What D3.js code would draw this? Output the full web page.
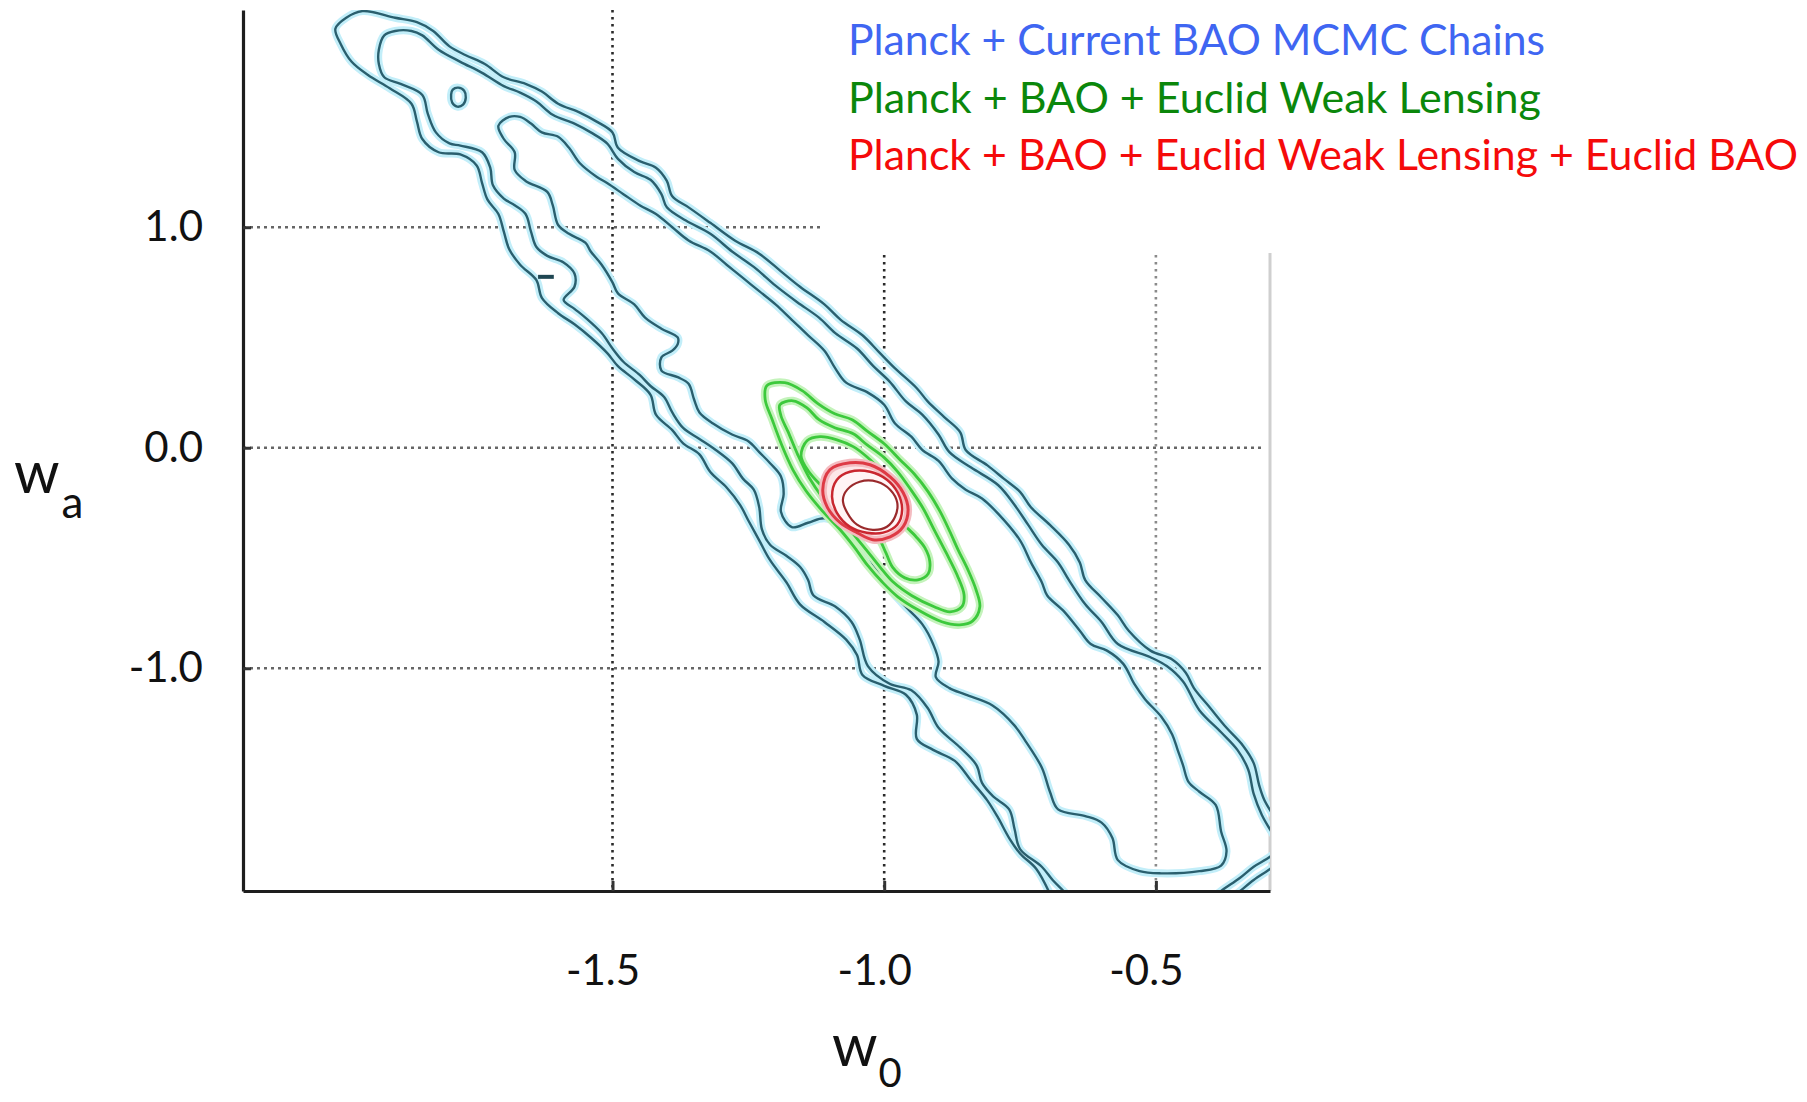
<!DOCTYPE html>
<html>
<head>
<meta charset="utf-8">
<script src="https://cdn.jsdelivr.net/npm/d3@7"></script>
<style>
  html, body { margin: 0; padding: 0; background: #fff; }
  svg { display: block; }
  text { font-family: Lato, "Open Sans", sans-serif; }
</style>
</head>
<body>
<script>
var width = 1807
var height = 1102

// axes
var xDomain = [-2.18, -0.29]
var yDomain = [-2.01, 1.985]
var xTicks = [-1.5, -1.0, -0.5]
var yTicks = [1.0, 0.0, -1.0]
var xTickLabels = ['-1.5', '-1.0', '-0.5']
var yTickLabels = ['1.0', '0.0', '-1.0']

var legendLabels = [
    'Planck + Current BAO MCMC Chains',
    'Planck + BAO + Euclid Weak Lensing',
    'Planck + BAO + Euclid Weak Lensing + Euclid BAO'
]
var legendColors = ['#3f66f2', '#0b870b', '#f50a0a']

// Planck + current BAO, outer contour (clipped by the frame, so two pieces)
var blueOuter = [
    [-0.69,-2.05],[-0.72,-1.91],[-0.75,-1.84],[-0.77,-1.77],[-0.79,-1.68],[-0.81,-1.60],[-0.84,-1.51],
    [-0.87,-1.42],[-0.91,-1.37],[-0.94,-1.32],[-0.94,-1.21],[-0.96,-1.12],[-1.00,-1.08],[-1.04,-1.03],
    [-1.05,-0.94],[-1.07,-0.87],[-1.11,-0.79],[-1.155,-0.71],[-1.18,-0.61],[-1.21,-0.51],[-1.23,-0.42],
    [-1.25,-0.33],[-1.265,-0.26],[-1.29,-0.18],[-1.32,-0.11],[-1.34,-0.03],[-1.37,0.02],[-1.39,0.08],
    [-1.42,0.15],[-1.43,0.24],[-1.46,0.31],[-1.49,0.37],[-1.51,0.43],[-1.54,0.50],[-1.57,0.56],
    [-1.60,0.61],[-1.63,0.68],[-1.64,0.76],[-1.67,0.83],[-1.69,0.90],[-1.70,0.98],[-1.71,1.06],
    [-1.73,1.125],[-1.74,1.20],[-1.75,1.28],[-1.78,1.33],[-1.82,1.34],[-1.85,1.40],[-1.86,1.48],
    [-1.87,1.56],[-1.91,1.63],[-1.95,1.69],[-1.98,1.75],[-2.00,1.83],[-2.01,1.90],
    [-1.99,1.95],[-1.96,1.98],[-1.90,1.95],[-1.86,1.93],[-1.83,1.89],[-1.80,1.82],[-1.77,1.78],
    [-1.735,1.74],[-1.70,1.68],[-1.66,1.65],[-1.63,1.615],[-1.60,1.56],[-1.56,1.52],[-1.53,1.48],
    [-1.50,1.43],[-1.49,1.36],[-1.45,1.30],[-1.42,1.27],[-1.40,1.21],[-1.39,1.14],[-1.36,1.09],
    [-1.32,1.02],[-1.275,0.94],[-1.23,0.88],[-1.19,0.80],[-1.155,0.73],[-1.11,0.65],[-1.08,0.58],
    [-1.04,0.51],[-1.01,0.435],[-0.98,0.36],[-0.94,0.27],[-0.92,0.21],[-0.89,0.14],[-0.86,0.07],
    [-0.85,-0.01],[-0.81,-0.08],[-0.78,-0.14],[-0.75,-0.20],[-0.73,-0.27],[-0.695,-0.35],[-0.66,-0.44],
    [-0.64,-0.52],[-0.63,-0.60],[-0.60,-0.68],[-0.57,-0.76],[-0.55,-0.83],[-0.51,-0.92],[-0.47,-0.96],
    [-0.445,-1.02],[-0.43,-1.09],[-0.40,-1.18],[-0.37,-1.27],[-0.34,-1.35],[-0.32,-1.43],[-0.31,-1.53],
    [-0.30,-1.60],[-0.28,-1.68]
]
var blueOuterCorner = [[-0.27,-1.87],[-0.29,-1.91],[-0.32,-1.96],[-0.345,-2.01],[-0.37,-2.06]]

// middle contour
var blueMiddle = [
    [-0.65,-2.06],[-0.67,-2.01],[-0.69,-1.96],[-0.71,-1.90],[-0.75,-1.82],[-0.76,-1.73],[-0.77,-1.64],
    [-0.80,-1.58],[-0.82,-1.52],[-0.83,-1.44],[-0.86,-1.36],[-0.90,-1.27],[-0.92,-1.18],[-0.95,-1.10],
    [-0.99,-1.07],[-1.03,-0.99],[-1.045,-0.87],[-1.06,-0.79],[-1.09,-0.72],[-1.13,-0.67],[-1.14,-0.60],
    [-1.155,-0.54],[-1.18,-0.49],[-1.21,-0.44],[-1.225,-0.37],[-1.23,-0.27],[-1.24,-0.19],[-1.26,-0.14],
    [-1.28,-0.07],[-1.31,-0.01],[-1.34,0.04],[-1.37,0.09],[-1.39,0.16],[-1.405,0.23],[-1.43,0.28],
    [-1.45,0.33],[-1.48,0.39],[-1.50,0.45],[-1.52,0.52],[-1.55,0.59],[-1.57,0.63],[-1.59,0.67],
    [-1.57,0.73],[-1.57,0.79],[-1.59,0.84],[-1.62,0.87],[-1.64,0.91],[-1.65,0.98],[-1.66,1.06],
    [-1.68,1.10],[-1.70,1.13],[-1.72,1.19],[-1.725,1.27],[-1.74,1.34],[-1.78,1.37],[-1.80,1.38],
    [-1.825,1.43],[-1.84,1.515],[-1.85,1.60],[-1.89,1.65],[-1.92,1.68],[-1.93,1.74],[-1.93,1.805],
    [-1.92,1.87],[-1.90,1.89],
    [-1.87,1.89],[-1.85,1.87],[-1.82,1.805],[-1.78,1.75],[-1.74,1.70],[-1.70,1.64],[-1.67,1.61],
    [-1.64,1.57],[-1.61,1.51],[-1.57,1.47],[-1.54,1.43],[-1.51,1.38],[-1.49,1.31],[-1.46,1.25],
    [-1.43,1.215],[-1.41,1.15],[-1.40,1.09],[-1.365,1.03],[-1.32,0.97],[-1.28,0.89],[-1.24,0.82],
    [-1.20,0.735],[-1.16,0.66],[-1.12,0.59],[-1.09,0.52],[-1.05,0.45],[-1.02,0.37],[-0.99,0.30],
    [-0.96,0.21],[-0.93,0.15],[-0.90,0.06],[-0.88,-0.02],[-0.84,-0.09],[-0.79,-0.17],[-0.76,-0.26],
    [-0.735,-0.35],[-0.71,-0.44],[-0.68,-0.52],[-0.66,-0.60],[-0.63,-0.71],[-0.60,-0.79],[-0.57,-0.89],
    [-0.51,-0.95],[-0.48,-0.99],[-0.45,-1.06],[-0.42,-1.19],[-0.38,-1.29],[-0.35,-1.37],[-0.33,-1.46],
    [-0.32,-1.57],[-0.305,-1.665],[-0.28,-1.77]
]
var blueMiddleCorner = [[-0.27,-1.81],[-0.29,-1.855],[-0.32,-1.90],[-0.345,-1.95],[-0.38,-2.01],[-0.40,-2.05]]

// inner contour (closed) plus a small island and a stub
var blueInner = [
    [-1.69,1.50],[-1.71,1.46],[-1.70,1.40],[-1.68,1.34],[-1.68,1.26],[-1.66,1.21],[-1.62,1.16],
    [-1.61,1.10],[-1.60,1.01],[-1.58,0.97],[-1.55,0.93],[-1.54,0.89],[-1.52,0.83],[-1.50,0.75],
    [-1.49,0.70],[-1.46,0.65],[-1.44,0.59],[-1.41,0.54],[-1.38,0.50],[-1.38,0.47],[-1.39,0.44],
    [-1.41,0.41],[-1.41,0.35],[-1.38,0.32],[-1.36,0.29],[-1.35,0.22],[-1.34,0.16],[-1.315,0.11],
    [-1.28,0.06],[-1.25,0.03],[-1.23,-0.02],[-1.21,-0.07],[-1.19,-0.13],[-1.185,-0.21],[-1.19,-0.29],
    [-1.17,-0.36],[-1.14,-0.34],[-1.11,-0.32],[-1.07,-0.36],[-1.04,-0.44],[-1.02,-0.53],[-1.00,-0.61],
    [-0.965,-0.71],[-0.93,-0.80],[-0.91,-0.89],[-0.90,-0.97],[-0.905,-1.04],[-0.88,-1.09],[-0.85,-1.12],
    [-0.80,-1.17],[-0.76,-1.26],[-0.74,-1.33],[-0.71,-1.45],[-0.695,-1.56],[-0.68,-1.64],[-0.63,-1.67],
    [-0.60,-1.70],[-0.58,-1.77],[-0.57,-1.87],[-0.53,-1.92],[-0.49,-1.93],[-0.42,-1.92],[-0.38,-1.895],
    [-0.37,-1.83],[-0.38,-1.74],[-0.39,-1.62],[-0.42,-1.56],[-0.44,-1.515],[-0.45,-1.44],[-0.46,-1.37],
    [-0.47,-1.30],[-0.49,-1.22],[-0.52,-1.14],[-0.54,-1.07],[-0.56,-0.98],[-0.59,-0.92],[-0.62,-0.89],
    [-0.64,-0.83],[-0.67,-0.74],[-0.70,-0.67],[-0.71,-0.61],[-0.73,-0.52],[-0.75,-0.42],[-0.79,-0.30],
    [-0.82,-0.23],[-0.85,-0.19],[-0.875,-0.14],[-0.90,-0.06],[-0.93,-0.01],[-0.95,0.05],[-0.98,0.11],
    [-1.00,0.195],[-1.03,0.25],[-1.07,0.295],[-1.09,0.36],[-1.11,0.44],[-1.14,0.51],[-1.17,0.58],
    [-1.20,0.65],[-1.23,0.71],[-1.26,0.77],[-1.29,0.83],[-1.32,0.89],[-1.36,0.94],[-1.39,1.00],
    [-1.42,1.06],[-1.45,1.10],[-1.48,1.15],[-1.51,1.20],[-1.53,1.23],[-1.56,1.29],[-1.58,1.36],
    [-1.60,1.41],[-1.63,1.43],[-1.65,1.47],[-1.67,1.50]
]
var blueIsland = [
    [-1.784,1.633],[-1.773,1.619],[-1.770,1.588],[-1.775,1.556],
    [-1.786,1.547],[-1.795,1.565],[-1.797,1.601],[-1.794,1.624]
]
var blueStub = [[-1.637,0.775],[-1.608,0.775]]

// Planck + BAO + Euclid WL
var greenOuter = [
    [-1.216,0.281],[-1.183,0.295],[-1.151,0.259],[-1.122,0.200],[-1.091,0.154],[-1.059,0.127],
    [-1.030,0.073],[-1.000,0.018],[-0.971,-0.054],[-0.945,-0.118],[-0.919,-0.200],[-0.897,-0.290],
    [-0.879,-0.381],[-0.864,-0.463],[-0.846,-0.553],[-0.831,-0.644],[-0.824,-0.721],[-0.837,-0.785],
    [-0.861,-0.803],[-0.894,-0.789],[-0.938,-0.735],[-0.975,-0.676],[-1.004,-0.608],[-1.030,-0.535],
    [-1.054,-0.454],[-1.081,-0.372],[-1.114,-0.286],[-1.144,-0.195],[-1.168,-0.100],[-1.188,0.009],
    [-1.206,0.127],[-1.219,0.218]
]
var greenMiddle = [
    [-1.192,0.195],[-1.168,0.213],[-1.142,0.181],[-1.120,0.127],[-1.091,0.091],[-1.057,0.063],
    [-1.032,0.014],[-1.000,-0.045],[-0.975,-0.109],[-0.951,-0.190],[-0.929,-0.272],[-0.908,-0.372],
    [-0.886,-0.476],[-0.866,-0.576],[-0.853,-0.667],[-0.857,-0.721],[-0.879,-0.744],[-0.908,-0.721],
    [-0.949,-0.671],[-0.984,-0.608],[-1.008,-0.540],[-1.033,-0.463],[-1.059,-0.385],[-1.085,-0.308],
    [-1.113,-0.227],[-1.138,-0.136],[-1.159,-0.032],[-1.177,0.073],[-1.190,0.145]
]
var greenInner = [
    [-1.142,0.032],[-1.118,0.050],[-1.087,0.036],[-1.057,0.005],[-1.032,-0.041],[-1.008,-0.100],
    [-0.984,-0.190],[-0.971,-0.281],[-0.962,-0.349],[-0.943,-0.399],[-0.925,-0.454],[-0.916,-0.517],
    [-0.919,-0.571],[-0.938,-0.599],[-0.962,-0.590],[-0.984,-0.544],[-0.997,-0.476],[-1.011,-0.408],
    [-1.045,-0.336],[-1.081,-0.259],[-1.114,-0.177],[-1.140,-0.104],[-1.153,-0.036]
]

// Planck + BAO + Euclid WL + Euclid BAO
var redOuter = [
    [-1.100,-0.100],[-1.063,-0.068],[-1.026,-0.077],[-0.989,-0.132],[-0.965,-0.204],[-0.956,-0.281],
    [-0.965,-0.358],[-0.989,-0.404],[-1.021,-0.417],[-1.050,-0.385],[-1.081,-0.340],[-1.105,-0.268],
    [-1.113,-0.190]
]
var redMiddle = [
    [-1.087,-0.145],[-1.063,-0.109],[-1.026,-0.109],[-0.995,-0.145],[-0.975,-0.204],[-0.967,-0.281],
    [-0.976,-0.349],[-1.002,-0.385],[-1.032,-0.385],[-1.063,-0.358],[-1.087,-0.295],[-1.096,-0.222]
]
var redInner = [
    [-1.068,-0.190],[-1.045,-0.154],[-1.013,-0.154],[-0.989,-0.190],[-0.976,-0.249],[-0.980,-0.313],
    [-0.995,-0.358],[-1.021,-0.372],[-1.050,-0.349],[-1.068,-0.295],[-1.076,-0.236]
]

var x = d3.scaleLinear()
    .domain(xDomain)
    .range([243, 1270])

var y = d3.scaleLinear()
    .domain(yDomain)
    .range([891, 10])

var svg = d3.select('body').append('svg')
    .attr('width', width)
    .attr('height', height)

svg.append('rect')
    .attr('width', width)
    .attr('height', height)
    .style('fill', '#fff')

svg.append('clipPath')
    .attr('id', 'plot-clip')
    .append('rect')
    .attr('x', x(xDomain[0]))
    .attr('y', y(yDomain[1]))
    .attr('width', x(xDomain[1]) - x(xDomain[0]))
    .attr('height', y(yDomain[0]) - y(yDomain[1]))

// dotted grid
var grid = svg.append('g').attr('class', 'grid')

grid.selectAll('.vgrid')
    .data(xTicks)
    .enter().append('line')
    .attr('x1', function(d) { return x(d) })
    .attr('x2', function(d) { return x(d) })
    .attr('y1', y(yDomain[1]))
    .attr('y2', y(yDomain[0]))
    .style('stroke', function(d, i) { return i === 2 ? '#8a8a8a' : '#2a2a2a' })
    .style('stroke-width', 2.6)
    .style('stroke-dasharray', '2.5,4.5')

grid.selectAll('.hgrid')
    .data(yTicks)
    .enter().append('line')
    .attr('x1', x(xDomain[0]))
    .attr('x2', x(xDomain[1]) - 6)
    .attr('y1', function(d) { return y(d) })
    .attr('y2', function(d) { return y(d) })
    .style('stroke', '#666')
    .style('stroke-width', 2.6)
    .style('stroke-dasharray', '3,4')

// blank box behind the legend cuts the grid
svg.append('rect')
    .attr('x', 824)
    .attr('y', 0)
    .attr('width', width - 824)
    .attr('height', 253)
    .style('fill', '#fff')

// right frame, light grey
svg.append('line')
    .attr('x1', x(xDomain[1]))
    .attr('x2', x(xDomain[1]))
    .attr('y1', 253)
    .attr('y2', y(yDomain[0]))
    .style('stroke', '#cfcfcf')
    .style('stroke-width', 3)

var openPath = d3.line()
    .x(function(d) { return x(d[0]) })
    .y(function(d) { return y(d[1]) })
    .curve(d3.curveCatmullRom.alpha(0.5))

var closedPath = d3.line()
    .x(function(d) { return x(d[0]) })
    .y(function(d) { return y(d[1]) })
    .curve(d3.curveCatmullRomClosed.alpha(0.5))

var plot = svg.append('g')
    .attr('clip-path', 'url(#plot-clip)')

var blueOpen = [blueOuter, blueOuterCorner, blueMiddle, blueMiddleCorner]
var blueClosed = [blueInner, blueIsland]

function drawSet(g, open, closed, halo, haloWidth, stroke, strokeWidth) {
    g.selectAll(null).data(open).enter().append('path')
        .attr('d', openPath)
        .style('fill', 'none').style('stroke', halo).style('stroke-width', haloWidth)
        .style('stroke-linejoin', 'round').style('stroke-linecap', 'round')
    g.selectAll(null).data(closed).enter().append('path')
        .attr('d', closedPath)
        .style('fill', 'none').style('stroke', halo).style('stroke-width', haloWidth)
        .style('stroke-linejoin', 'round')
    g.selectAll(null).data(open).enter().append('path')
        .attr('d', openPath)
        .style('fill', 'none').style('stroke', stroke).style('stroke-width', strokeWidth)
        .style('stroke-linejoin', 'round')
    g.selectAll(null).data(closed).enter().append('path')
        .attr('d', closedPath)
        .style('fill', 'none').style('stroke', stroke).style('stroke-width', strokeWidth)
        .style('stroke-linejoin', 'round')
}

drawSet(plot.append('g').attr('class', 'blue'), blueOpen, blueClosed, '#c2eef9', 8, '#2a5f6e', 2.4)

plot.append('path')
    .datum(blueStub)
    .attr('d', openPath)
    .style('fill', 'none')
    .style('stroke', '#1f4652')
    .style('stroke-width', 4)

drawSet(plot.append('g').attr('class', 'green'), [], [greenOuter, greenMiddle, greenInner], '#c4f3bb', 8, '#3cc93c', 2.8)

// red rings on top, the outer ring hides what lies beneath
var red = plot.append('g').attr('class', 'red')

red.append('path')
    .datum(redOuter)
    .attr('d', closedPath)
    .style('fill', '#fde6e8')
    .style('stroke', '#f4bcc1')
    .style('stroke-width', 8)

red.append('path')
    .datum(redOuter)
    .attr('d', closedPath)
    .style('fill', 'none')
    .style('stroke', '#de3a45')
    .style('stroke-width', 3)

red.append('path')
    .datum(redMiddle)
    .attr('d', closedPath)
    .style('fill', '#fff4f5')
    .style('stroke', '#c9262f')
    .style('stroke-width', 2.5)

red.append('path')
    .datum(redInner)
    .attr('d', closedPath)
    .style('fill', '#fff')
    .style('stroke', '#9a2a2c')
    .style('stroke-width', 2.2)

// axes
var yAxis = d3.axisLeft(y)
    .tickValues(yTicks)
    .tickFormat(function(d, i) { return yTickLabels[i] })
    .tickSizeInner(-8)
    .tickSizeOuter(0)
    .tickPadding(40)

var xAxis = d3.axisBottom(x)
    .tickValues(xTicks)
    .tickFormat(function(d, i) { return xTickLabels[i] })
    .tickSizeInner(-10)
    .tickSizeOuter(0)
    .tickPadding(64)

var gy = svg.append('g')
    .attr('transform', 'translate(' + x(xDomain[0]) + ',0)')
    .call(yAxis)

var gx = svg.append('g')
    .attr('transform', 'translate(0,' + y(yDomain[0]) + ')')
    .call(xAxis)

svg.selectAll('.domain')
    .style('stroke', '#1e1e1e')
    .style('stroke-width', 3.2)

svg.selectAll('.tick line')
    .style('stroke', '#333')
    .style('stroke-width', 3)

svg.selectAll('.tick text')
    .style('font-family', 'Lato, "Open Sans", sans-serif')
    .style('font-size', '42px')
    .style('fill', '#111')

gx.selectAll('.tick text').attr('dx', -10)

// axis titles
var ya = svg.append('text')
    .attr('x', 14)
    .attr('y', 493)
    .style('font-size', '58px')
    .style('fill', '#111')
ya.append('tspan').text('w')
ya.append('tspan').attr('dy', 25).attr('dx', 2).style('font-size', '44px').text('a')

var xa = svg.append('text')
    .attr('x', 832)
    .attr('y', 1066)
    .style('font-size', '58px')
    .style('fill', '#111')
xa.append('tspan').text('w')
xa.append('tspan').attr('dy', 21).attr('dx', 1).style('font-size', '40px').text('0')

// legend
var legendWidths = [697, 693, 950]

svg.append('g')
    .attr('class', 'legend')
    .selectAll('text')
    .data(legendLabels)
    .enter().append('text')
    .attr('x', 848)
    .attr('y', function(d, i) { return 55 + i * 57.5 })
    .attr('textLength', function(d, i) { return legendWidths[i] })
    .attr('lengthAdjust', 'spacingAndGlyphs')
    .style('font-size', '43px')
    .style('fill', function(d, i) { return legendColors[i] })
    .text(function(d) { return d })
</script>
</body>
</html>
